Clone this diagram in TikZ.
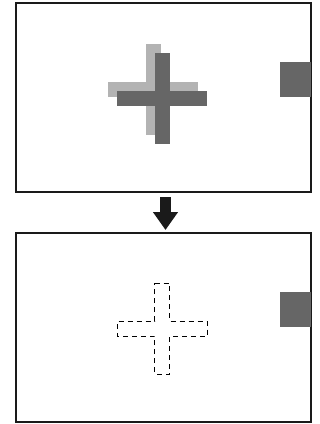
\documentclass[tikz,border=0pt]{standalone}
\usetikzlibrary{arrows.meta}
\definecolor{lightg}{HTML}{B3B3B3}
\definecolor{darkg}{HTML}{666666}
\definecolor{frame}{HTML}{1A1A1A}
\begin{document}
\begin{tikzpicture}[x=1pt,y=-1pt,
  panel/.style={draw=frame,line width=1.4pt,minimum width=295pt,minimum height=189pt,inner sep=0pt,outer sep=0pt},
  lightfill/.style={fill=lightg},
  darkfill/.style={fill=darkg},
  outline/.style={draw=black,line width=0.9pt,dash pattern=on 5pt off 4pt},
  bigarrow/.style={draw=frame,line width=11pt,-{Triangle[width=24pt,length=18pt]}}]
\useasboundingbox (0,0) rectangle (320,424);
% panels
\node[panel] (top) at (163.5,97.5) {};
\node[panel] (bot) at (163.5,327.5) {};
% light cross
\fill[lightfill] (145.5,44) rectangle (160.5,135);
\fill[lightfill] (108,82) rectangle (198,97);
% dark cross
\fill[darkfill] (154.5,53) rectangle (169.5,144);
\fill[darkfill] (117,91) rectangle (207,106);
% squares
\fill[darkfill] (280,62) rectangle (311,97);
\fill[darkfill] (280,292) rectangle (311,327);
% dashed cross
\draw[outline] (154.5,283) -- (169.5,283) -- (169.5,321) -- (207,321) -- (207,336)
  -- (169.5,336) -- (169.5,374) -- (154.5,374) -- (154.5,336) -- (117,336)
  -- (117,321) -- (154.5,321) -- cycle;
% arrow
\coordinate (as) at (165.5,197);
\coordinate (ae) at (165.5,230);
\draw[bigarrow] (as) -- (ae);
\end{tikzpicture}
\end{document}
